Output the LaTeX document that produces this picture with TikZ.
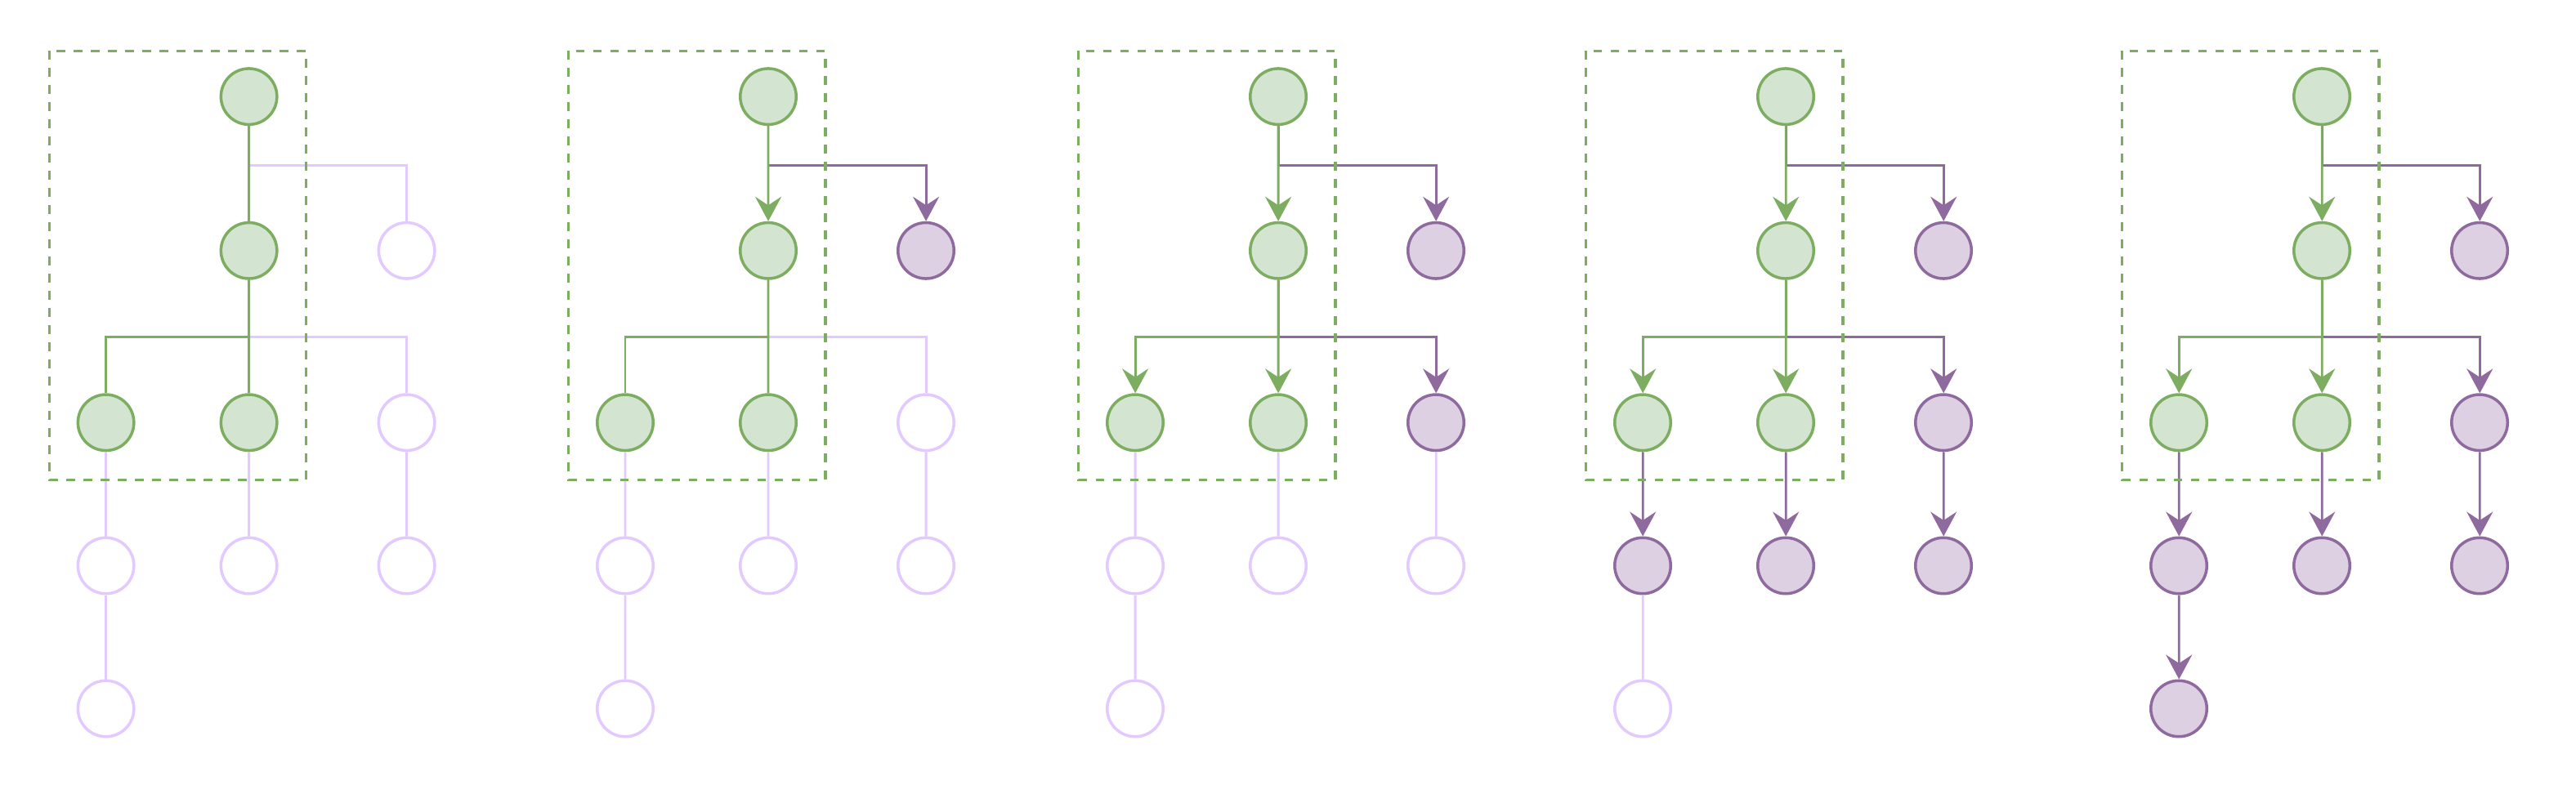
\documentclass[tikz,border=0pt]{standalone}
\usepackage{tikz}
\usepackage{xcolor}
\usetikzlibrary{arrows.meta}
\definecolor{gfill}{HTML}{D3E5D1}
\definecolor{gdraw}{HTML}{7CAD60}
\definecolor{pfill}{HTML}{DDD0E3}
\definecolor{pdraw}{HTML}{8E6A9E}
\definecolor{hdraw}{HTML}{E2CAFF}

\begin{document}
\begin{tikzpicture}[scale=0.1,>={Stealth[length=3mm,width=3.2mm,inset=1.05mm]}]
	\tikzstyle{every node}+=[inner sep=0pt]
	\tikzstyle{gnode}=[circle,minimum size=6.85mm,line width=1pt,draw=gdraw,fill=gfill]
	\tikzstyle{pnode}=[circle,minimum size=6.85mm,line width=1pt,draw=pdraw,fill=pfill]
	\tikzstyle{hnode}=[circle,minimum size=6.85mm,line width=1pt,draw=hdraw,fill=white]
	\tikzstyle{gline}=[gdraw,line width=0.8pt]
	\tikzstyle{pline}=[pdraw,line width=0.8pt]
	\tikzstyle{hline}=[hdraw,line width=0.8pt]
	\tikzstyle{winbox}=[gdraw,line width=0.9pt,dash pattern=on 1.07mm off 1.03mm]
	\useasboundingbox (0,0) rectangle (315.2,-97.2);
	\node [gnode] (a0) at (30.46,-11.82) {};
	\node [gnode] (a1) at (30.46,-30.68) {};
	\node [hnode] (a2) at (49.76,-30.68) {};
	\node [gnode] (a3) at (12.96,-51.73) {};
	\node [gnode] (a4) at (30.46,-51.73) {};
	\node [hnode] (a5) at (49.76,-51.73) {};
	\node [hnode] (a6) at (12.96,-69.25) {};
	\node [hnode] (a7) at (30.46,-69.25) {};
	\node [hnode] (a8) at (49.76,-69.25) {};
	\node [hnode] (a9) at (12.96,-86.75) {};
	\draw [hline] (a0.south) -- ++(0,-4.8) -| (a2);
	\draw [hline] (a1.south) -- ++(0,-6.95) -| (a5);
	\draw [hline] (a3) -- (a6);
	\draw [hline] (a4) -- (a7);
	\draw [hline] (a5) -- (a8);
	\draw [hline] (a6) -- (a9);
	\draw [gline] (a0) -- (a1);
	\draw [gline] (a1.south) -- ++(0,-6.95) -| (a3);
	\draw [gline] (a1) -- (a4);
	\draw [winbox] (6.03,-6.23) rectangle (37.46,-58.73);
	\node [gnode] (b0) at (94.0,-11.82) {};
	\node [gnode] (b1) at (94.0,-30.68) {};
	\node [pnode] (b2) at (113.3,-30.68) {};
	\node [gnode] (b3) at (76.5,-51.73) {};
	\node [gnode] (b4) at (94.0,-51.73) {};
	\node [hnode] (b5) at (113.3,-51.73) {};
	\node [hnode] (b6) at (76.5,-69.25) {};
	\node [hnode] (b7) at (94.0,-69.25) {};
	\node [hnode] (b8) at (113.3,-69.25) {};
	\node [hnode] (b9) at (76.5,-86.75) {};
	\draw [hline] (b1.south) -- ++(0,-6.95) -| (b5);
	\draw [hline] (b3) -- (b6);
	\draw [hline] (b4) -- (b7);
	\draw [hline] (b5) -- (b8);
	\draw [hline] (b6) -- (b9);
	\draw [pline,->] (b0.south) -- ++(0,-4.8) -| (b2);
	\draw [gline,->] (b0) -- (b1);
	\draw [gline] (b1.south) -- ++(0,-6.95) -| (b3);
	\draw [gline] (b1) -- (b4);
	\draw [winbox] (69.57,-6.23) rectangle (101.0,-58.73);
	\node [gnode] (c0) at (156.4,-11.82) {};
	\node [gnode] (c1) at (156.4,-30.68) {};
	\node [pnode] (c2) at (175.7,-30.68) {};
	\node [gnode] (c3) at (138.9,-51.73) {};
	\node [gnode] (c4) at (156.4,-51.73) {};
	\node [pnode] (c5) at (175.7,-51.73) {};
	\node [hnode] (c6) at (138.9,-69.25) {};
	\node [hnode] (c7) at (156.4,-69.25) {};
	\node [hnode] (c8) at (175.7,-69.25) {};
	\node [hnode] (c9) at (138.9,-86.75) {};
	\draw [hline] (c3) -- (c6);
	\draw [hline] (c4) -- (c7);
	\draw [hline] (c5) -- (c8);
	\draw [hline] (c6) -- (c9);
	\draw [pline,->] (c0.south) -- ++(0,-4.8) -| (c2);
	\draw [pline,->] (c1.south) -- ++(0,-6.95) -| (c5);
	\draw [gline,->] (c0) -- (c1);
	\draw [gline,->] (c1.south) -- ++(0,-6.95) -| (c3);
	\draw [gline,->] (c1) -- (c4);
	\draw [winbox] (131.97,-6.23) rectangle (163.4,-58.73);
	\node [gnode] (d0) at (218.5,-11.82) {};
	\node [gnode] (d1) at (218.5,-30.68) {};
	\node [pnode] (d2) at (237.8,-30.68) {};
	\node [gnode] (d3) at (201.0,-51.73) {};
	\node [gnode] (d4) at (218.5,-51.73) {};
	\node [pnode] (d5) at (237.8,-51.73) {};
	\node [pnode] (d6) at (201.0,-69.25) {};
	\node [pnode] (d7) at (218.5,-69.25) {};
	\node [pnode] (d8) at (237.8,-69.25) {};
	\node [hnode] (d9) at (201.0,-86.75) {};
	\draw [hline] (d6) -- (d9);
	\draw [pline,->] (d0.south) -- ++(0,-4.8) -| (d2);
	\draw [pline,->] (d1.south) -- ++(0,-6.95) -| (d5);
	\draw [pline,->] (d3) -- (d6);
	\draw [pline,->] (d4) -- (d7);
	\draw [pline,->] (d5) -- (d8);
	\draw [gline,->] (d0) -- (d1);
	\draw [gline,->] (d1.south) -- ++(0,-6.95) -| (d3);
	\draw [gline,->] (d1) -- (d4);
	\draw [winbox] (194.07,-6.23) rectangle (225.5,-58.73);
	\node [gnode] (e0) at (284.1,-11.82) {};
	\node [gnode] (e1) at (284.1,-30.68) {};
	\node [pnode] (e2) at (303.4,-30.68) {};
	\node [gnode] (e3) at (266.6,-51.73) {};
	\node [gnode] (e4) at (284.1,-51.73) {};
	\node [pnode] (e5) at (303.4,-51.73) {};
	\node [pnode] (e6) at (266.6,-69.25) {};
	\node [pnode] (e7) at (284.1,-69.25) {};
	\node [pnode] (e8) at (303.4,-69.25) {};
	\node [pnode] (e9) at (266.6,-86.75) {};
	\draw [pline,->] (e0.south) -- ++(0,-4.8) -| (e2);
	\draw [pline,->] (e1.south) -- ++(0,-6.95) -| (e5);
	\draw [pline,->] (e3) -- (e6);
	\draw [pline,->] (e4) -- (e7);
	\draw [pline,->] (e5) -- (e8);
	\draw [pline,->] (e6) -- (e9);
	\draw [gline,->] (e0) -- (e1);
	\draw [gline,->] (e1.south) -- ++(0,-6.95) -| (e3);
	\draw [gline,->] (e1) -- (e4);
	\draw [winbox] (259.67,-6.23) rectangle (291.1,-58.73);
\end{tikzpicture}
\end{document}
